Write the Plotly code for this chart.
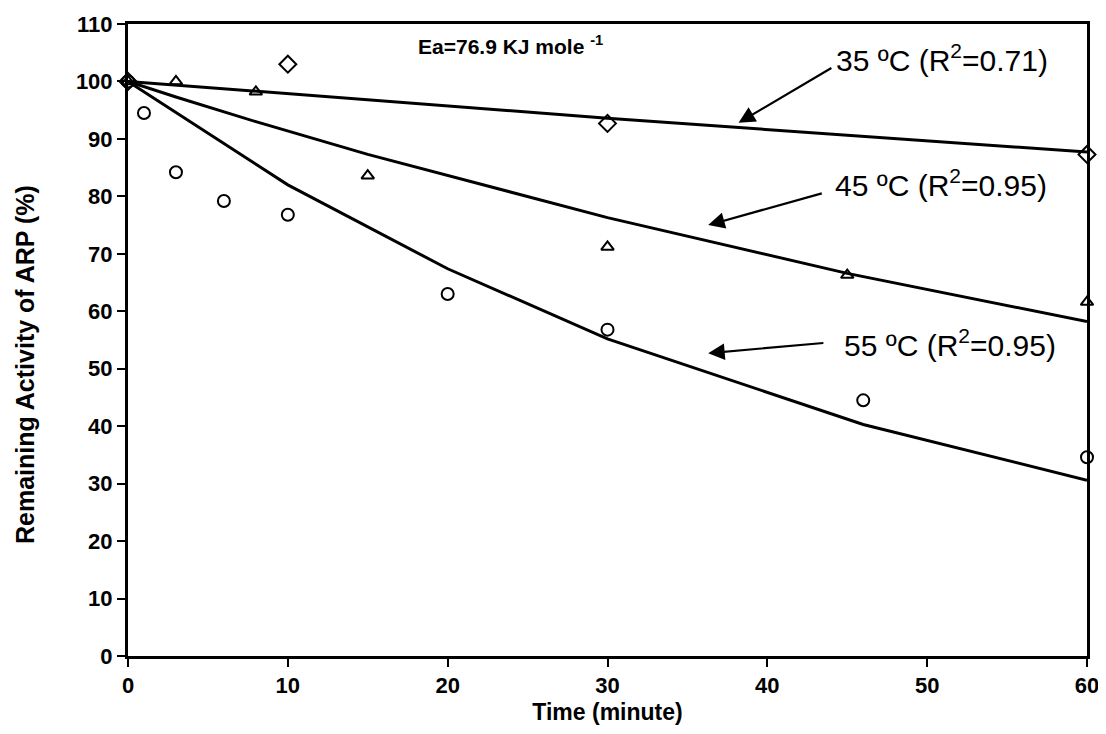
import plotly.graph_objects as go

# Measured points
x35 = [0, 10, 30, 60]
y35 = [100, 103, 92.7, 87.3]
x45 = [0, 3, 8, 15, 30, 45, 60]
y45 = [100, 100, 98.2, 83.6, 71.2, 66.3, 61.6]
x55 = [0, 1, 3, 6, 10, 20, 30, 46, 60]
y55 = [100, 94.5, 84.2, 79.2, 76.8, 63.0, 56.8, 44.5, 34.6]

# Fitted lines
fx35 = [0, 10, 30, 60]
fy35 = [100, 97.9, 93.6, 87.7]
fx45 = [0, 3, 8, 15, 30, 45, 60]
fy45 = [100, 97.3, 93.0, 87.3, 76.3, 66.6, 58.2]
fx55 = [0, 10, 20, 30, 46, 60]
fy55 = [100, 82.0, 67.4, 55.2, 40.3, 30.6]

labels = ["35 ºC (R<sup>2</sup>=0.71)", "45 ºC (R<sup>2</sup>=0.95)", "55 ºC (R<sup>2</sup>=0.95)"]
ea_text = "Ea=76.9 KJ mole <sup>-1</sup>"
x_title = "Time (minute)"
y_title = "Remaining Activity of ARP (%)"

FONT = "Liberation Sans, Arial"

fig = go.Figure()
for fx, fy in [(fx35, fy35), (fx45, fy45), (fx55, fy55)]:
    fig.add_trace(go.Scatter(x=fx, y=fy, mode="lines", line=dict(color="black", width=3),
                             showlegend=False, cliponaxis=False, hoverinfo="skip"))

for xs, ys, sym, sz in [(x35, y35, "diamond-open", 13), (x45, y45, "triangle-up-open", 11),
                        (x55, y55, "circle-open", 12)]:
    fig.add_trace(go.Scatter(x=xs, y=ys, mode="markers",
                             marker=dict(symbol=sym, size=sz, color="black", line=dict(width=2, color="black")),
                             showlegend=False, cliponaxis=False))

annots = []
# arrows: (tip_x, tip_y, tail_x, tail_y)
arrows = [(38.2, 92.8, 44.1, 102.5), (36.3, 75.0, 43.5, 80.6), (36.3, 52.7, 43.6, 54.5)]
for tx, ty, sx, sy in arrows:
    annots.append(dict(x=tx, y=ty, ax=sx, ay=sy, xref="x", yref="y", axref="x", ayref="y",
                       text="", showarrow=True, arrowhead=2, arrowsize=1.5, arrowwidth=2.2,
                       arrowcolor="black"))
text_pos = [(44.2, 104.0), (44.1, 82.4), (44.7, 54.4)]
for (px, py), t in zip(text_pos, labels):
    annots.append(dict(x=px, y=py, xref="x", yref="y", text=t, showarrow=False, xanchor="left",
                       yanchor="middle", font=dict(family=FONT, size=30, color="black")))
annots.append(dict(x=18.0, y=106.4, xref="x", yref="y", text=ea_text, showarrow=False, xanchor="left",
                   yanchor="middle", font=dict(family=FONT, size=21, color="black", weight="bold")))
annots.append(dict(x=0, y=0.5, xref="paper", yref="paper", xshift=-103, yshift=-25, textangle=-90,
                   text=y_title, showarrow=False, xanchor="center", yanchor="middle",
                   font=dict(family=FONT, size=25, color="black", weight="bold")))

fig.update_layout(
    width=1098, height=718,
    margin=dict(l=120, r=19, t=16, b=70),
    plot_bgcolor="white", paper_bgcolor="white",
    annotations=annots,
    font=dict(family=FONT, color="black"),
)
fig.update_xaxes(range=[0, 60], tickvals=[0, 10, 20, 30, 40, 50, 60], ticks="outside", ticklen=8, tickwidth=2,
                 tickcolor="black", showline=True, linecolor="black", linewidth=3, mirror=True,
                 showgrid=False, zeroline=False, automargin=False,
                 tickfont=dict(size=22, weight="bold", family=FONT),
                 title=dict(text=x_title, font=dict(size=23, weight="bold"), standoff=7))
fig.update_yaxes(range=[0, 110], tickvals=list(range(0, 111, 10)), ticks="outside", ticklen=8, tickwidth=2,
                 tickcolor="black", showline=True, linecolor="black", linewidth=3, mirror=True,
                 showgrid=False, zeroline=False, automargin=False,
                 tickfont=dict(size=22, weight="bold", family=FONT))

fig.write_html("out.html")
